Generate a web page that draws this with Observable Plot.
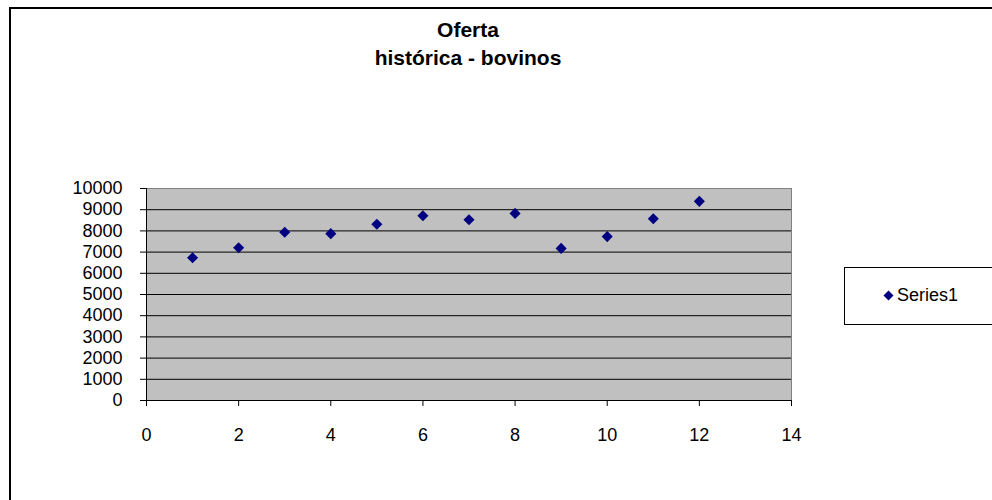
<!DOCTYPE html>
<html>
<head>
<meta charset="utf-8">
<script src="https://cdn.jsdelivr.net/npm/d3@7"></script>
<script src="https://cdn.jsdelivr.net/npm/@observablehq/plot@0.6"></script>
<style>
  html, body { margin: 0; padding: 0; background: #fff; }
  #chart { position: relative; width: 992px; height: 500px; overflow: hidden; font-family: "Liberation Sans", Arial, sans-serif; }
  #outline { position: absolute; left: 9px; top: 7px; width: 1100px; height: 700px; border: 2px solid #000; box-sizing: border-box; }
  #title { position: absolute; left: 268px; width: 400px; top: 16px; text-align: center; font-weight: bold; font-size: 21px; line-height: 28px; color: #000; }
  #legend { position: absolute; left: 844px; top: 267px; width: 200px; height: 58px; border: 1px solid #000; box-sizing: border-box; background: #fff; }
  #legend .item { position: absolute; left: 38px; top: 15px; font-size: 18px; line-height: 24px; color: #000; display: flex; align-items: center; white-space: nowrap; }
  #legend svg { margin-right: 3px; }
  #plot { position: absolute; left: 0; top: 0; }
</style>
</head>
<body>
<div id="chart">
  <div id="plot"></div>
  <div id="outline"></div>
  <div id="title"></div>
  <div id="legend"></div>
</div>
<script>
// Historical cattle supply, one value per period
const titleLines = ["Oferta", "histórica - bovinos"];
const seriesName = "Series1";
const periods = [1, 2, 3, 4, 5, 6, 7, 8, 9, 10, 11, 12];
const oferta = [6730, 7205, 7935, 7870, 8315, 8715, 8525, 8825, 7175, 7730, 8570, 9395];
const xTicks = [0, 2, 4, 6, 8, 10, 12, 14];
const yTicks = [0, 1000, 2000, 3000, 4000, 5000, 6000, 7000, 8000, 9000, 10000];

const markerColor = "#000080";
const data = periods.map((p, i) => ({period: p, value: oferta[i]}));

const chart = Plot.plot({
  width: 992,
  height: 500,
  marginLeft: 146,
  marginRight: 201,
  marginTop: 188,
  marginBottom: 100,
  style: {fontFamily: '"Liberation Sans", Arial, sans-serif', fontSize: "18px", color: "#000", background: "transparent", overflow: "visible"},
  x: {domain: [xTicks[0], xTicks[xTicks.length - 1]], label: null},
  y: {domain: [yTicks[0], yTicks[yTicks.length - 1]], label: null},
  marks: [
    Plot.frame({fill: "#c0c0c0"}),
    Plot.ruleY(yTicks.slice(1, -1), {stroke: "#000", strokeWidth: 1}),
    Plot.frame({stroke: "#808080"}),
    Plot.ruleX([xTicks[0]], {stroke: "#000"}),
    Plot.ruleY([yTicks[0]], {stroke: "#000"}),
    Plot.axisX({ticks: xTicks, tickSize: 6, tickPadding: 22, tickFormat: d => String(d), label: null}),
    Plot.axisY({ticks: yTicks, tickSize: 6, tickPadding: 18, tickFormat: d => String(d), label: null}),
    Plot.dot(data, {x: "period", y: "value", symbol: "diamond2", r: 5, fill: markerColor})
  ]
});
document.getElementById("plot").appendChild(chart);

document.getElementById("title").innerHTML = titleLines.map(t => `<div>${t}</div>`).join("");

// Legend: one diamond swatch and the series name
const legend = document.getElementById("legend");
const item = document.createElement("div");
item.className = "item";
item.innerHTML = `<svg width="11" height="11" viewBox="-5.5 -5.5 11 11"><path d="M0,-5L5,0L0,5L-5,0Z" fill="${markerColor}"/></svg><span></span>`;
item.querySelector("span").textContent = seriesName;
legend.appendChild(item);
</script>
</body>
</html>
